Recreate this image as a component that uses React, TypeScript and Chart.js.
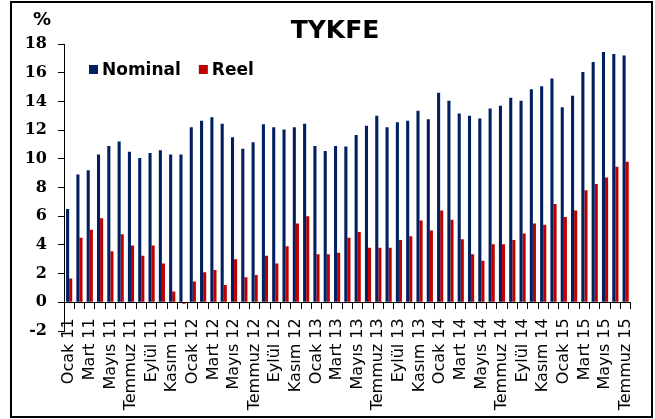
import React, { useEffect, useRef } from 'react';
import { Chart, registerables } from 'chart.js';

Chart.register(...registerables);

const TITLE = 'TYKFE';
const UNIT = '%';
const monthNames = ['Ocak', 'Şubat', 'Mart', 'Nisan', 'Mayıs', 'Haziran', 'Temmuz', 'Ağustos', 'Eylül', 'Ekim', 'Kasım', 'Aralık'];
const years = ['11', '12', '13', '14', '15'];
const lastYearMonths = 7;

const categories: string[] = [];
years.forEach((y, yi) => {
  monthNames.forEach((m, mi) => {
    if (yi < years.length - 1 || mi < lastYearMonths) categories.push(`${m} ${y}`);
  });
});

const nominal = [
  6.5, 8.9, 9.2, 10.3, 10.9, 11.2, 10.5, 10.05, 10.4, 10.6, 10.3, 10.3,
  12.2, 12.65, 12.9, 12.45, 11.5, 10.7, 11.15, 12.4, 12.2, 12.05, 12.2, 12.45,
  10.9, 10.55, 10.9, 10.85, 11.65, 12.3, 13.0, 12.2, 12.55, 12.65, 13.35, 12.75,
  14.6, 14.05, 13.15, 13.0, 12.8, 13.5, 13.7, 14.25, 14.05, 14.85, 15.05, 15.6,
  13.6, 14.4, 16.05, 16.75, 17.45, 17.3, 17.2,
];

const reel = [
  1.65, 4.5, 5.05, 5.85, 3.55, 4.75, 3.95, 3.25, 3.95, 2.7, 0.75, -0.1,
  1.45, 2.1, 2.25, 1.2, 3.0, 1.75, 1.9, 3.25, 2.7, 3.9, 5.5, 6.0,
  3.35, 3.35, 3.45, 4.5, 4.9, 3.8, 3.8, 3.8, 4.35, 4.6, 5.7, 5.0,
  6.4, 5.75, 4.4, 3.35, 2.9, 4.05, 4.05, 4.35, 4.8, 5.5, 5.4, 6.85,
  5.95, 6.4, 7.8, 8.25, 8.7, 9.45, 9.8,
];

const yMin = -2;
const yMax = 18;
const yStep = 2;

const seriesNames = ['Nominal', 'Reel'];
const seriesColors = ['#002060', '#C00000'];

const overlayPlugin = {
  id: 'overlayText',
  afterDraw(chart: any) {
    const ctx = chart.ctx as CanvasRenderingContext2D;
    ctx.save();
    ctx.fillStyle = '#000';
    ctx.textBaseline = 'alphabetic';
    ctx.font = 'bold 25px "DejaVu Sans"';
    ctx.textAlign = 'center';
    ctx.fillText(TITLE, 335, 38);
    ctx.textAlign = 'left';
    ctx.font = 'bold 18px "DejaVu Sans"';
    ctx.fillText(UNIT, 33, 25);
    ctx.font = 'bold 17px "DejaVu Sans"';
    let x = 89;
    chart.data.datasets.forEach((ds: any) => {
      ctx.fillStyle = ds.backgroundColor;
      ctx.fillRect(x, 65, 9, 9);
      x += 13;
      ctx.fillStyle = '#000';
      ctx.fillText(ds.label, x, 75);
      x += ctx.measureText(ds.label).width + 18;
    });
    ctx.restore();
  },
};

export default function App() {
  const canvasRef = useRef<HTMLCanvasElement | null>(null);

  useEffect(() => {
    if (!canvasRef.current) return;
    const chart = new Chart(canvasRef.current, {
      type: 'bar',
      data: {
        labels: categories,
        datasets: [
          {
            label: seriesNames[0],
            data: nominal,
            backgroundColor: seriesColors[0],
            categoryPercentage: 0.6,
            barPercentage: 1.0,
          },
          {
            label: seriesNames[1],
            data: reel,
            backgroundColor: seriesColors[1],
            categoryPercentage: 0.6,
            barPercentage: 1.0,
          },
        ],
      },
      options: {
        animation: false,
        responsive: true,
        maintainAspectRatio: false,
        layout: { padding: { left: 0, right: 17, top: 44, bottom: 88 } },
        plugins: {
          legend: { display: false },
          title: { display: false },
          tooltip: { enabled: false },
        },
        scales: {
          x: {
            position: { y: 0 } as any,
            offset: true,
            grid: {
              offset: true,
              drawOnChartArea: false,
              drawTicks: true,
              tickLength: 6,
              color: '#000',
            },
            border: { display: true, color: '#000', width: 1 },
            ticks: {
              autoSkip: false,
              minRotation: 90,
              maxRotation: 90,
              padding: 10,
              color: '#000',
              font: { family: '"DejaVu Sans"', size: 16 },
              callback: (_v: any, i: number) => (i % 2 === 0 ? categories[i] : ''),
            },
          },
          y: {
            min: yMin,
            max: yMax,
            afterFit: (s: any) => {
              s.width = 64;
            },
            grid: {
              drawOnChartArea: false,
              drawTicks: true,
              tickLength: 6,
              color: '#000',
            },
            border: { display: true, color: '#000', width: 1 },
            ticks: {
              stepSize: yStep,
              padding: 11,
              color: '#000',
              font: { family: '"DejaVu Serif"', size: 16, weight: 'bold' },
            },
          },
        },
      },
      plugins: [overlayPlugin],
    });
    return () => chart.destroy();
  }, []);

  return (
    <div style={{ position: 'absolute', left: 0, top: 0, width: 655, height: 419, background: '#fff' }}>
      <div
        style={{
          position: 'absolute',
          left: 10,
          top: 1,
          width: 643,
          height: 417,
          boxSizing: 'border-box',
          border: '2px solid #000',
        }}
      />
      <div style={{ position: 'absolute', left: 0, top: 0, width: 655, height: 419 }}>
        <canvas ref={canvasRef} />
      </div>
    </div>
  );
}
